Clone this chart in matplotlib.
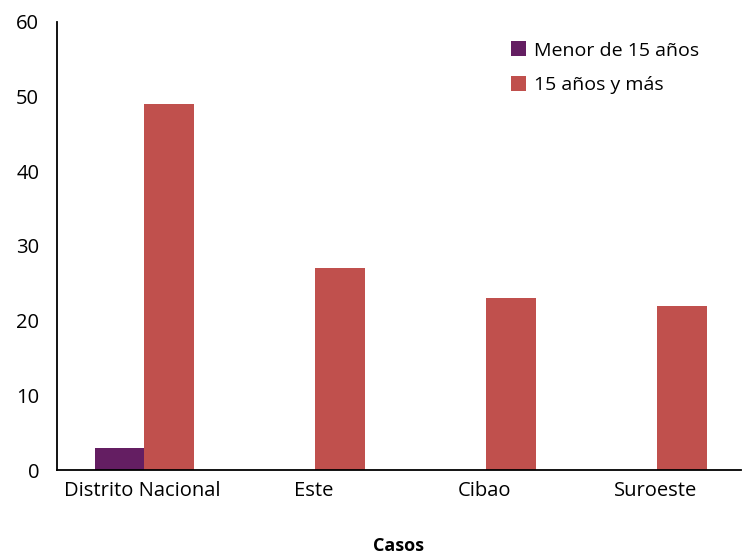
import matplotlib.pyplot as plt
import numpy as np

regiones = ['Distrito Nacional', 'Este', 'Cibao', 'Suroeste']
menor_15 = [3, 0, 0, 0]
mayor_15 = [49, 27, 23, 22]

plt.rcParams['font.family'] = ['Open Sans', 'DejaVu Sans']

fig = plt.figure(figsize=(7.43, 5.57), dpi=100)
ax = fig.add_axes([0.077, 0.156, 0.92, 0.805])

x = np.arange(len(regiones))
w = 0.29
ax.bar(x - w / 2 + 0.01, menor_15, w, color='#641E62', label='Menor de 15 años')
ax.bar(x + w / 2 + 0.01, mayor_15, w, color='#C0504D', label='15 años y más')

ax.set_xlim(-0.5, 3.5)
ax.set_ylim(0, 60)
ax.set_yticks(range(0, 61, 10))
ax.set_xticks(x)
ax.set_xticklabels(regiones)
ax.tick_params(axis='both', length=0, labelsize=14.5, pad=8)
ax.tick_params(axis='y', pad=13)
for s in ['top', 'right']:
    ax.spines[s].set_visible(False)
ax.spines['left'].set_linewidth(1.3)
ax.spines['bottom'].set_linewidth(1.3)

ax.set_xlabel('Casos', fontsize=13, fontweight='bold', labelpad=26)

ax.legend(loc='upper right', bbox_to_anchor=(0.965, 0.995), frameon=False,
          fontsize=14, handlelength=0.8, handleheight=0.8, handletextpad=0.4,
          labelspacing=0.85)

fig.savefig('out.png', dpi=100)
